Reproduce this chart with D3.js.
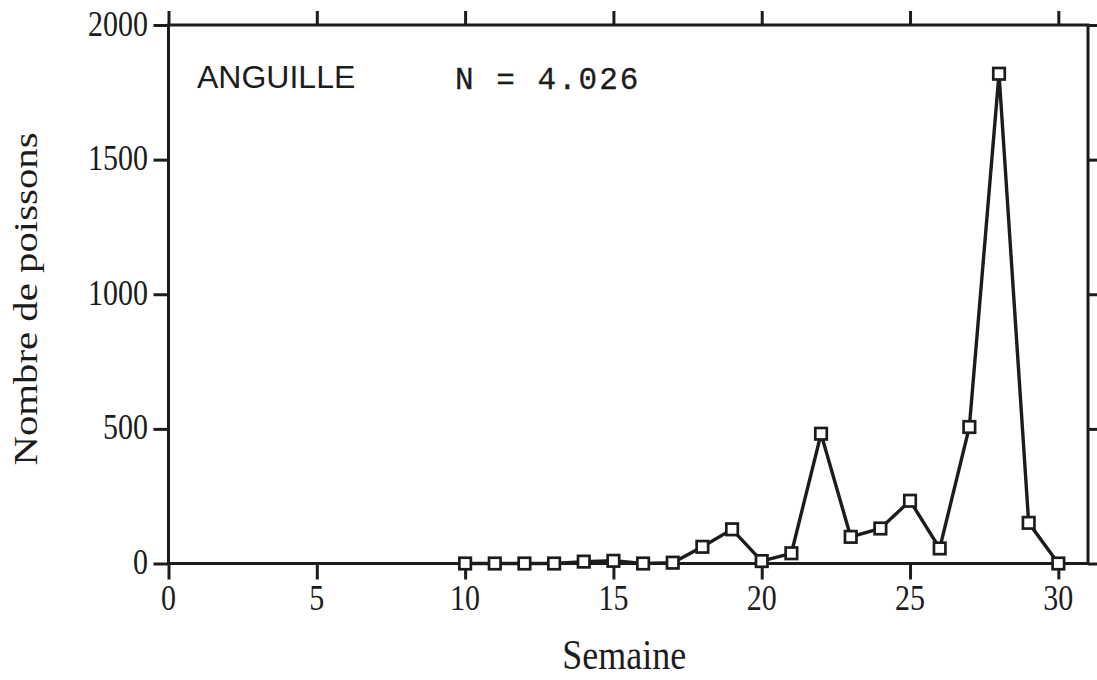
<!DOCTYPE html>
<html>
<head>
<meta charset="utf-8">
<script src="https://cdn.jsdelivr.net/npm/d3@7"></script>
<style>
  html, body { margin: 0; padding: 0; background: #fff; }
  svg { display: block; }
</style>
</head>
<body>
<svg id="chart" width="1097" height="680"></svg>
<script>
// ---- data ----
const weeks  = [10, 11, 12, 13, 14, 15, 16, 17, 18, 19, 20, 21, 22, 23, 24, 25, 26, 27, 28, 29, 30];
const counts = [0, 0, 0, 0, 7, 10, 0, 3, 62, 127, 9, 38, 482, 99, 130, 233, 56, 507, 1819, 151, 0];
const xTicks = [0, 5, 10, 15, 20, 25, 30];
const yTicks = [0, 500, 1000, 1500, 2000];
const speciesLabel = "ANGUILLE";
const totalLabel = "N = 4.026";
const xTitle = "Semaine";
const yTitle = "Nombre de poissons";

// ---- layout ----
const ink = "#1c1c1c";
const svg = d3.select("#chart");
const x = d3.scaleLinear().domain([0, 31]).range([168.5, 1088]);
const y = d3.scaleLinear().domain([0, 2000]).range([563.5, 25]);
const serif = "'Liberation Serif', 'Times New Roman', serif";
const stretch = 1.2;   // scanned text is taller than it is wide

// frame
svg.append("rect")
  .attr("x", x(0)).attr("y", y(2000))
  .attr("width", x(31) - x(0)).attr("height", y(0) - y(2000))
  .attr("fill", "none").attr("stroke", ink).attr("stroke-width", 3);

function styleAxis(g) {
  g.select(".domain").remove();
  g.selectAll(".tick line").attr("stroke", ink).attr("stroke-width", 3);
  g.selectAll(".tick text").remove();
}

svg.append("g").attr("transform", `translate(${x(0)},0)`)
  .call(d3.axisLeft(y).tickValues(yTicks).tickSize(15).tickFormat(""))
  .call(styleAxis);
svg.append("g").attr("transform", `translate(${x(31)},0)`)
  .call(d3.axisRight(y).tickValues(yTicks).tickSize(15).tickFormat(""))
  .call(styleAxis);
svg.append("g").attr("transform", `translate(0,${y(0)})`)
  .call(d3.axisBottom(x).tickValues(xTicks).tickSize(16).tickFormat(""))
  .call(styleAxis);
svg.append("g").attr("transform", `translate(0,${y(2000)})`)
  .call(d3.axisTop(x).tickValues(xTicks).tickSize(14).tickFormat(""))
  .call(styleAxis);

// tick labels (stretched vertically like the scan)
svg.append("g").selectAll("text")
  .data(yTicks).join("text")
  .attr("transform", d => `translate(148,${y(d) + 10.5}) scale(1,${stretch})`)
  .attr("text-anchor", "end")
  .style("font-family", serif).style("font-size", "30px").attr("fill", ink)
  .text(d3.format("d"));
svg.append("g").selectAll("text")
  .data(xTicks).join("text")
  .attr("transform", d => `translate(${x(d)},${y(0) + 46.5}) scale(1,${stretch})`)
  .attr("text-anchor", "middle")
  .style("font-family", serif).style("font-size", "30px").attr("fill", ink)
  .text(d3.format("d"));

// line
const pts = weeks.map((w, i) => [w, counts[i]]);
svg.append("path")
  .datum(pts)
  .attr("fill", "none").attr("stroke", ink).attr("stroke-width", 3.4)
  .attr("stroke-linejoin", "miter")
  .attr("d", d3.line().x(d => x(d[0])).y(d => y(d[1])));

// markers
const ms = 11.5;
svg.append("g").selectAll("rect")
  .data(pts).join("rect")
  .attr("x", d => x(d[0]) - ms / 2).attr("y", d => y(d[1]) - ms / 2)
  .attr("width", ms).attr("height", ms)
  .attr("fill", "#fff").attr("stroke", ink).attr("stroke-width", 2.7);

// annotations
svg.append("text").attr("x", 197).attr("y", 88)
  .style("font-family", "'Liberation Sans', Arial, sans-serif").style("font-size", "32px")
  .attr("fill", ink).text(speciesLabel);
svg.append("text").attr("x", 455).attr("y", 88.5)
  .style("font-family", "'Liberation Mono', 'Courier New', monospace").style("font-size", "31px")
  .style("letter-spacing", "2px")
  .attr("fill", ink).attr("stroke", ink).attr("stroke-width", 0.3)
  .attr("xml:space", "preserve").text(totalLabel);

// axis titles
svg.append("text")
  .attr("transform", `translate(${(x(0) + x(31)) / 2 - 4},669) scale(1,1.15)`)
  .attr("text-anchor", "middle").style("font-family", serif).style("font-size", "36px")
  .attr("fill", ink).text(xTitle);
svg.append("text")
  .attr("transform", `translate(37,299) rotate(-90) scale(${stretch},1)`)
  .attr("text-anchor", "middle").style("font-family", serif).style("font-size", "34px")
  .attr("fill", ink).text(yTitle);
</script>
</body>
</html>
